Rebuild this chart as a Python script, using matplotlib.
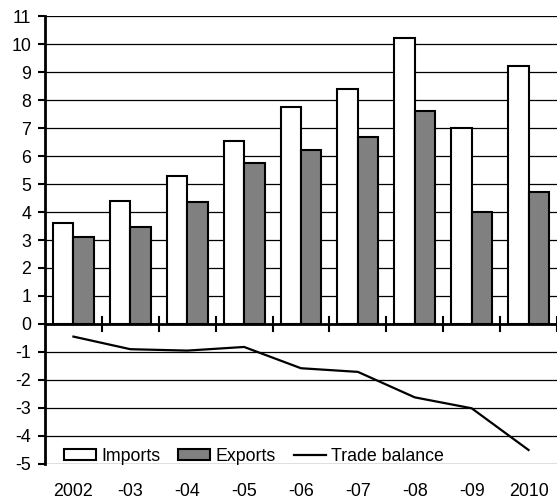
import matplotlib
matplotlib.use("Agg")
import matplotlib.pyplot as plt
import numpy as np
from matplotlib.patches import Patch
from matplotlib.lines import Line2D

plt.rcParams['font.family'] = ['Liberation Sans', 'DejaVu Sans']
plt.rcParams['axes.unicode_minus'] = False

years = ["2002", "-03", "-04", "-05", "-06", "-07", "-08", "-09", "2010"]
imports = [3.6, 4.4, 5.3, 6.55, 7.75, 8.4, 10.2, 7.0, 9.2]
exports = [3.1, 3.45, 4.35, 5.75, 6.2, 6.68, 7.6, 4.0, 4.7]
trade_balance = [-0.45, -0.9, -0.95, -0.82, -1.58, -1.71, -2.62, -3.01, -4.5]
yticks = list(range(-5, 12))

W, H = 557, 501
FS = 12.8
fig = plt.figure(figsize=(W / 100, H / 100), dpi=100)
left, right, top, bottom = 45, 557, 16, 464
ax = fig.add_axes([left / W, (H - bottom) / H, (right - left) / W, (bottom - top) / H])

x = np.arange(len(years))
bw = 0.36
for yv in yticks:
    ax.axhline(yv, color='black', lw=0.9, zorder=0)
ax.bar(x - bw / 2, imports, bw, color='white', edgecolor='black', lw=1.5, zorder=2)
ax.bar(x + bw / 2, exports, bw, color='#808080', edgecolor='black', lw=1.5, zorder=2)
ax.axhline(0, color='black', lw=2, zorder=3)
for b in np.arange(0.5, len(years), 1.0):
    ax.plot([b, b], [-0.25, 0.25], color='black', lw=1.5, zorder=3, clip_on=False)
ax.plot(x, trade_balance, color='black', lw=1.6, zorder=4)

ax.set_xlim(-0.5, len(years) - 0.5)
ax.set_ylim(-5, 11)
ax.set_yticks(yticks)
ax.tick_params(axis='y', length=5, width=1.5, direction='out', labelsize=FS, pad=5)
ax.set_xticks([])
for s in ['top', 'right', 'bottom']:
    ax.spines[s].set_visible(False)
ax.spines['left'].set_linewidth(2)

for i, lab in enumerate(years):
    ax.text(i, -0.062, lab, transform=ax.get_xaxis_transform(), ha='center', va='center', fontsize=FS)

handles = [Patch(facecolor='white', edgecolor='black', lw=1.5),
           Patch(facecolor='#808080', edgecolor='black', lw=1.5),
           Line2D([0], [0], color='black', lw=1.6)]
leg = ax.legend(handles, ['Imports', 'Exports', 'Trade balance'], ncol=3, frameon=False,
                loc='lower left', bbox_to_anchor=(0.03, -0.01), fontsize=FS,
                handlelength=1.8, handleheight=0.58, handletextpad=0.3, columnspacing=1.0,
                borderpad=0.2, borderaxespad=0)

fig.savefig('out.png', dpi=100)
